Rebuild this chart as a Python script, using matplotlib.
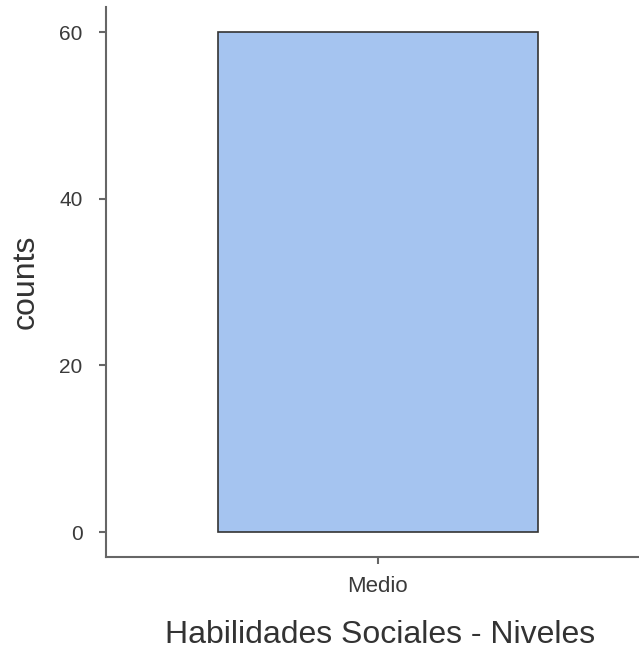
import matplotlib
matplotlib.use("Agg")
import matplotlib.pyplot as plt

categories = ["Medio"]
counts = [60]
y_ticks = [0, 20, 40, 60]

plt.rcParams["font.family"] = ["Liberation Sans", "DejaVu Sans"]

fig = plt.figure(figsize=(6.39, 6.5), dpi=100)
ax = fig.add_axes([106 / 639, 93 / 650, 533 / 639, 550 / 650])

ax.bar(range(len(categories)), counts, width=0.6, color="#A5C4F0",
       edgecolor="#333333", linewidth=1.2, zorder=2)

ax.set_xlim(-0.51, 0.49)
ax.set_ylim(-3, 63)
ax.set_xticks(range(len(categories)))
ax.set_xticklabels(categories)
ax.set_yticks(y_ticks)

for side in ["top", "right"]:
    ax.spines[side].set_visible(False)
for side in ["left", "bottom"]:
    ax.spines[side].set_color("#666666")
    ax.spines[side].set_linewidth(1.5)

ax.tick_params(axis="both", colors="#666666", length=5, width=1.5,
               labelcolor="#3a3a3a", labelsize=15)
ax.tick_params(axis="y", pad=12)
ax.tick_params(axis="x", pad=9, labelsize=16)

# axis titles placed where the reference has them
ax.set_xlabel("Habilidades Sociales - Niveles", fontsize=23, color="#333333", va="center")
ax.xaxis.set_label_coords(0.514, -0.142)
ax.set_ylabel("counts", fontsize=23, color="#333333", va="center")
ax.yaxis.set_label_coords(-0.150, 0.5)

fig.savefig("out.png", dpi=100)
